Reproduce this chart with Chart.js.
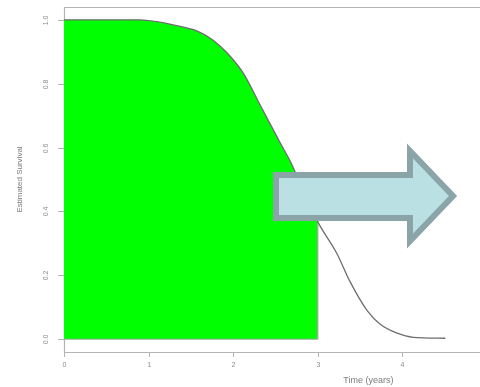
<!DOCTYPE html>
<html>
<head>
<meta charset="utf-8">
<script src="https://cdn.jsdelivr.net/npm/chart.js@4"></script>
<style>
  html, body { margin: 0; padding: 0; background: #ffffff; overflow: hidden; }
  #wrap { width: 480px; height: 387px; }
</style>
</head>
<body>
<div id="wrap"><canvas id="c" width="480" height="387"></canvas></div>
<script>
// ---- data ----
const timeYears = [0, 0.43, 0.9, 1.1, 1.29, 1.57, 1.76, 1.93, 2.12, 2.32, 2.56, 2.67, 2.79, 3.0, 3.23, 3.38, 3.59, 3.74, 3.94, 4.13, 4.51];
const survival  = [1.0, 1.0, 1.0, 0.994, 0.984, 0.965, 0.937, 0.896, 0.833, 0.733, 0.613, 0.56, 0.49, 0.368, 0.267, 0.182, 0.088, 0.047, 0.019, 0.006, 0.003];
const shadeUntil = 3.0;               // shaded area under the curve, 0..3 years
const xTicks = [0, 1, 2, 3, 4];
const yTicks = [0.0, 0.2, 0.4, 0.6, 0.8, 1.0];
const yTickLabels = ['0.0', '0.2', '0.4', '0.6', '0.8', '1.0'];
const xTitle = 'Time (years)';
const yTitle = 'Estimated Survival';

// curve points
const curvePts = timeYears.map((t, i) => ({ x: t, y: survival[i] }));
// shaded region: curve up to 3 years, filled down to 0
const shadePts = curvePts.filter(p => p.x <= shadeUntil);
const last = shadePts[shadePts.length - 1];
// outline of the shaded region (vertical drop and baseline)
const edgePts = [{ x: shadeUntil, y: last.y }, { x: shadeUntil, y: 0 }, { x: 0, y: 0 }];

const AXIS = '#b4b4b4';
const TXT = '#8c8c8c';
const FONT = '"Liberation Sans", Arial, sans-serif';

const decor = {
  id: 'decor',
  beforeDatasetsDraw(chart) {
    const { ctx, chartArea: a } = chart;
    ctx.save();
    ctx.strokeStyle = AXIS;
    ctx.lineWidth = 1.2;
    ctx.beginPath();
    ctx.moveTo(a.right, a.top + 0.5);
    ctx.lineTo(a.left + 0.5, a.top + 0.5);
    ctx.lineTo(a.left + 0.5, a.bottom + 0.5);
    ctx.lineTo(a.right, a.bottom + 0.5);
    ctx.stroke();
    ctx.restore();
  },
  afterDatasetsDraw(chart) {
    // decorative block arrow
    const { ctx } = chart;
    ctx.save();
    ctx.beginPath();
    ctx.moveTo(276, 175);
    ctx.lineTo(410, 175);
    ctx.lineTo(410, 151);
    ctx.lineTo(453, 196);
    ctx.lineTo(410, 241);
    ctx.lineTo(410, 218);
    ctx.lineTo(276, 218);
    ctx.closePath();
    ctx.fillStyle = '#bae0e4';
    ctx.fill();
    ctx.lineJoin = 'miter';
    ctx.lineWidth = 6;
    ctx.strokeStyle = '#8aa4a7';
    ctx.stroke();
    ctx.restore();
  },
  afterDraw(chart) {
    const { ctx, chartArea: a } = chart;
    const xs = chart.scales.x, ys = chart.scales.y;
    ctx.save();
    ctx.strokeStyle = AXIS;
    ctx.lineWidth = 1;
    ctx.fillStyle = TXT;
    // x ticks + labels
    ctx.font = '7px ' + FONT;
    ctx.textAlign = 'center';
    ctx.textBaseline = 'middle';
    xTicks.forEach(v => {
      const px = Math.round(xs.getPixelForValue(v)) + 0.5;
      ctx.beginPath();
      ctx.moveTo(px, a.bottom);
      ctx.lineTo(px, a.bottom + 5);
      ctx.stroke();
      ctx.fillText(String(v), px, a.bottom + 13);
    });
    // y ticks + rotated labels
    yTicks.forEach((v, i) => {
      const py = Math.round(ys.getPixelForValue(v)) + 0.5;
      ctx.beginPath();
      ctx.moveTo(a.left - 6, py);
      ctx.lineTo(a.left, py);
      ctx.stroke();
      ctx.save();
      ctx.translate(a.left - 18, py);
      ctx.rotate(-Math.PI / 2);
      ctx.fillText(yTickLabels[i], 0, 0);
      ctx.restore();
    });
    // axis titles
    ctx.fillStyle = '#7c7c7c';
    ctx.font = '8px ' + FONT;
    ctx.save();
    ctx.translate(20, (a.top + a.bottom) / 2);
    ctx.rotate(-Math.PI / 2);
    ctx.fillText(yTitle, 0, 0);
    ctx.restore();
    ctx.font = '9px ' + FONT;
    ctx.fillText(xTitle, xs.getPixelForValue(3.6), 381);
    ctx.restore();
  }
};

new Chart(document.getElementById('c'), {
  type: 'line',
  data: {
    datasets: [
      {
        label: 'Survival curve',
        data: curvePts,
        borderColor: '#6e6e6e',
        borderWidth: 1.3,
        pointRadius: 0,
        fill: false,
        cubicInterpolationMode: 'monotone',
        order: 1
      },
      {
        label: 'Shaded edge',
        data: edgePts,
        borderColor: '#a8a8a8',
        borderWidth: 1,
        pointRadius: 0,
        fill: false,
        tension: 0,
        order: 2
      },
      {
        label: 'Shaded area',
        data: shadePts,
        borderColor: 'rgba(0,0,0,0)',
        borderWidth: 0,
        backgroundColor: '#00ff00',
        pointRadius: 0,
        fill: 'origin',
        cubicInterpolationMode: 'monotone',
        order: 3
      }
    ]
  },
  options: {
    responsive: false,
    devicePixelRatio: 1,
    animation: false,
    layout: { padding: { top: 7, right: 0, bottom: 0, left: 0 } },
    plugins: { legend: { display: false }, tooltip: { enabled: false } },
    scales: {
      x: {
        type: 'linear',
        min: 0,
        max: 4.92,
        ticks: { display: false, stepSize: 1, includeBounds: false },
        grid: { display: false },
        border: { display: false },
        afterFit(s) { s.height = 35; }
      },
      y: {
        type: 'linear',
        min: -0.04,
        max: 1.04,
        ticks: { display: false, stepSize: 0.2, includeBounds: false },
        grid: { display: false },
        border: { display: false },
        afterFit(s) { s.width = 64; }
      }
    }
  },
  plugins: [decor]
});
</script>
</body>
</html>
